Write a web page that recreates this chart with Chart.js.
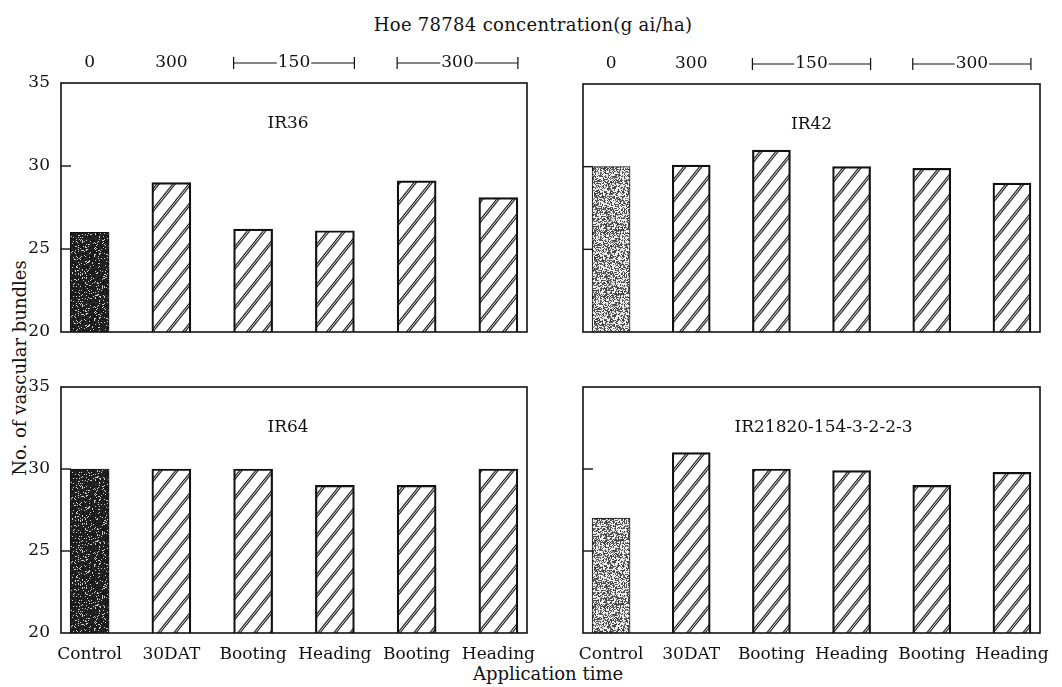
<!DOCTYPE html>
<html>
<head>
<meta charset="utf-8">
<script src="https://cdn.jsdelivr.net/npm/chart.js@4.4.0/dist/chart.umd.min.js"></script>
<style>
  body { margin: 0; background: #fff; width: 1062px; height: 687px; position: relative; overflow: hidden;
         font-family: "DejaVu Serif", serif; color: #111; }
  canvas { position: absolute; }
  .lbl { position: absolute; font-size: 18px; white-space: nowrap; }
</style>
</head>
<body>
<div class="lbl" style="left:533px; top:24px; transform:translate(-50%,-50%); letter-spacing:0.3px">Hoe 78784 concentration(g ai/ha)</div>
<div class="lbl" style="left:19px; top:368px; transform:translate(-50%,-50%) rotate(-90deg)">No. of vascular bundles</div>
<div class="lbl" style="left:548px; top:673px; transform:translate(-50%,-50%)">Application time</div>

<canvas id="ir36" width="545" height="310" style="left:0; top:40px"></canvas>
<canvas id="ir42" width="517" height="310" style="left:545px; top:40px"></canvas>
<canvas id="ir64" width="545" height="337" style="left:0; top:350px"></canvas>
<canvas id="ir21820" width="517" height="337" style="left:545px; top:350px"></canvas>

<script>
// application times (x categories)
let categories = ['Control', '30DAT', 'Booting', 'Heading', 'Booting', 'Heading']

// Hoe 78784 rate above each group of bars, and which bars it spans
let concLabels = ['0', '300', '150', '300']
let concSpans = [[0, 0], [1, 1], [2, 3], [4, 5]]

// no. of vascular bundles per variety
let ir36 = [26, 29, 26.2, 26.1, 29.1, 28.1]
let ir42 = [30, 30.1, 31, 30, 29.9, 29]
let ir64 = [30, 30, 30, 29, 29, 30]
let ir21820 = [27, 31, 30, 29.9, 29, 29.8]

let yTicks = [20, 25, 30, 35]

Chart.defaults.font.family = '"DejaVu Serif", serif'
Chart.defaults.font.size = 17
Chart.defaults.color = '#111'

// small texture helpers
function noise(i) {
    let s = Math.sin(i * 12.9898) * 43758.5453
    return s - Math.floor(s)
}

function stipple(dark) {
    let c = document.createElement('canvas')
    c.width = 64; c.height = 64
    let g = c.getContext('2d')
    let img = g.createImageData(64, 64)
    for (let i = 0; i < 64 * 64; i++) {
        let r = noise(i + 1)
        let v
        if (dark) v = r < 0.88 ? 15 + r * 35 : 140 + r * 70
        else v = r < 0.5 ? 50 + r * 130 : 180 + r * 75
        img.data[i * 4] = v; img.data[i * 4 + 1] = v; img.data[i * 4 + 2] = v; img.data[i * 4 + 3] = 255
    }
    g.putImageData(img, 0, 0)
    return g.createPattern(c, 'repeat')
}

function hatch() {
    let w = 16, h = 20
    let c = document.createElement('canvas')
    c.width = w; c.height = h
    let g = c.getContext('2d')
    g.fillStyle = '#fff'
    g.fillRect(0, 0, w, h)
    g.strokeStyle = '#222'
    g.lineWidth = 1.1
    for (let k = -1; k <= 1; k++) {
        for (let off of [0, 3]) {
            g.beginPath()
            g.moveTo(-w, h + k * h + off + h)
            g.lineTo(2 * w, k * h + off - h)
            g.stroke()
        }
    }
    return g.createPattern(c, 'repeat')
}

// border, inward ticks, panel name and rate labels
function panelPlugin(opts) {
    return {
        id: 'panel',
        afterDraw(chart) {
            let ctx = chart.ctx
            let a = chart.chartArea
            let x = chart.scales.x
            let y = chart.scales.y
            ctx.save()
            ctx.strokeStyle = '#111'
            ctx.lineWidth = 1.6
            ctx.strokeRect(a.left, a.top, a.right - a.left, a.bottom - a.top)

            ctx.lineWidth = 1.4
            ;[25, 30].forEach(function(v) {
                let py = y.getPixelForValue(v)
                ctx.beginPath()
                ctx.moveTo(a.left, py)
                ctx.lineTo(a.left + 10, py)
                ctx.stroke()
            })

            ctx.fillStyle = '#111'
            ctx.font = '17px "DejaVu Serif", serif'
            ctx.textAlign = 'center'
            ctx.textBaseline = 'middle'
            ctx.fillText(opts.title, (a.left + a.right) / 2 + opts.titleDx, a.top + 41)

            if (opts.conc) {
                let ym = a.top - 20
                concSpans.forEach(function(sp, k) {
                    let x0 = x.getPixelForValue(sp[0])
                    let x1 = x.getPixelForValue(sp[1])
                    if (sp[0] == sp[1]) {
                        ctx.fillText(concLabels[k], x0, ym)
                        return
                    }
                    let left = x0 - opts.barWidth / 2
                    let right = x1 + opts.barWidth / 2
                    let mid = (left + right) / 2
                    let tw = ctx.measureText(concLabels[k]).width
                    ctx.lineWidth = 1.2
                    ctx.beginPath()
                    ctx.moveTo(left, ym); ctx.lineTo(mid - tw / 2 - 1, ym)
                    ctx.moveTo(mid + tw / 2 + 1, ym); ctx.lineTo(right, ym)
                    ctx.moveTo(left, ym - 6); ctx.lineTo(left, ym + 6)
                    ctx.moveTo(right, ym - 6); ctx.lineTo(right, ym + 6)
                    ctx.stroke()
                    ctx.fillText(concLabels[k], mid, ym)
                })
            }
            ctx.restore()
        }
    }
}

function makePanel(id, values, opts) {
    let ctx = document.getElementById(id).getContext('2d')
    let hatchFill = hatch()
    let fills = values.map((v, i) => i == 0 ? stipple(opts.dark) : hatchFill)

    new Chart(ctx, {
        type: 'bar',
        data: {
            datasets: [{
                data: values.map((v, i) => ({ x: i, y: v })),
                backgroundColor: fills,
                borderColor: '#111',
                borderWidth: values.map((v, i) => i == 0 ? 1 : 2.2),
                borderSkipped: 'bottom',
                barThickness: opts.barWidth
            }]
        },
        options: {
            responsive: false,
            animation: false,
            layout: { padding: { top: opts.padTop, right: opts.padRight, left: 0, bottom: 0 } },
            plugins: { legend: { display: false }, tooltip: { enabled: false } },
            scales: {
                x: {
                    type: 'linear', min: -0.35, max: 5.35, offset: false,
                    grid: { display: false }, border: { display: false },
                    afterBuildTicks: s => { s.ticks = categories.map((c, i) => ({ value: i })) },
                    ticks: { display: opts.showX, padding: 3, maxRotation: 0, autoSkip: false,
                             callback: v => categories[v] },
                    afterFit: s => { s.height = opts.xHeight }
                },
                y: {
                    min: 20, max: 35,
                    grid: { display: false }, border: { display: false },
                    afterBuildTicks: s => { s.ticks = yTicks.map(v => ({ value: v })) },
                    ticks: { display: opts.showY, padding: 3 },
                    afterFit: s => { s.width = opts.yWidth }
                }
            }
        },
        plugins: [panelPlugin(opts)]
    })
}

makePanel('ir36', ir36, { title: 'IR36', titleDx: -6, dark: true, conc: true, showX: false, showY: true,
    yWidth: 61, xHeight: 18, padTop: 43, padRight: 18, barWidth: 39 })
makePanel('ir42', ir42, { title: 'IR42', titleDx: 0, dark: false, conc: true, showX: false, showY: false,
    yWidth: 38, xHeight: 18, padTop: 44, padRight: 22, barWidth: 38 })
makePanel('ir64', ir64, { title: 'IR64', titleDx: -6, dark: true, conc: false, showX: true, showY: true,
    yWidth: 61, xHeight: 54, padTop: 37, padRight: 18, barWidth: 39 })
makePanel('ir21820', ir21820, { title: 'IR21820-154-3-2-2-3', titleDx: 12, dark: false, conc: false, showX: true, showY: false,
    yWidth: 38, xHeight: 54, padTop: 37, padRight: 22, barWidth: 38 })
</script>
</body>
</html>
